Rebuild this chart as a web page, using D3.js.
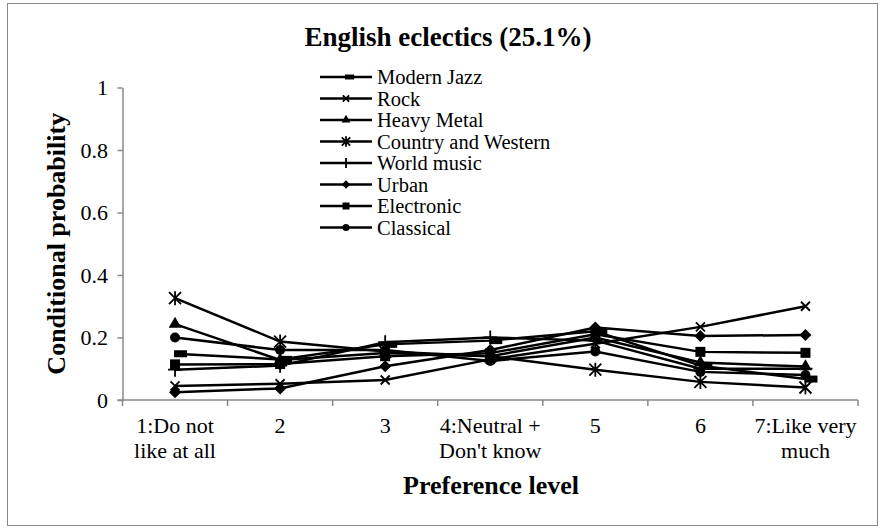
<!DOCTYPE html>
<html>
<head>
<meta charset="utf-8">
<script src="https://cdn.jsdelivr.net/npm/d3@7"></script>
<style>
  body { margin: 0; background: #fff; }
  svg text { font-family: "Liberation Serif", "DejaVu Serif", "Times New Roman", serif; fill: #000; }
</style>
</head>
<body>
<div id="chart"></div>
<script>
const W = 886, H = 532;
const SERIF = "Liberation Serif, DejaVu Serif, Times New Roman, serif";

// preference levels (x categories), two-line labels
const levels = ["1", "2", "3", "4", "5", "6", "7"];
const levelLabels = [["1:Do not", "like at all"], ["2"], ["3"], ["4:Neutral +", "Don't know"], ["5"], ["6"], ["7:Like very", "much"]];
const yTicks = [0, 0.2, 0.4, 0.6, 0.8, 1];

// conditional probabilities per genre
const modernJazz = [0.148, 0.130, 0.178, 0.190, 0.220, 0.110, 0.067];
const rock       = [0.045, 0.052, 0.064, 0.130, 0.180, 0.234, 0.300];
const heavyMetal = [0.243, 0.128, 0.150, 0.140, 0.200, 0.120, 0.107];
const country    = [0.326, 0.187, 0.155, 0.140, 0.097, 0.058, 0.040];
const worldMusic = [0.097, 0.110, 0.185, 0.200, 0.190, 0.100, 0.100];
const urban      = [0.025, 0.037, 0.108, 0.160, 0.232, 0.205, 0.208];
const electronic = [0.114, 0.115, 0.140, 0.150, 0.210, 0.154, 0.151];
const classical  = [0.200, 0.160, 0.160, 0.125, 0.155, 0.090, 0.080];

const series = [
  {name: "Modern Jazz", values: modernJazz, marker: "dash"},
  {name: "Rock", values: rock, marker: "x"},
  {name: "Heavy Metal", values: heavyMetal, marker: "triangle"},
  {name: "Country and Western", values: country, marker: "asterisk"},
  {name: "World music", values: worldMusic, marker: "plus"},
  {name: "Urban", values: urban, marker: "diamond"},
  {name: "Electronic", values: electronic, marker: "square"},
  {name: "Classical", values: classical, marker: "circle"}
];

const plot = {left: 122.5, right: 858, top: 87.5, bottom: 400};

const svg = d3.select("#chart").append("svg")
  .attr("width", W).attr("height", H)
  .attr("font-family", SERIF);

// outer frame
svg.append("rect")
  .attr("x", 7.5).attr("y", 3.5).attr("width", 870).attr("height", 522)
  .attr("fill", "#fff").attr("stroke", "#888").attr("stroke-width", 1);

const x = d3.scaleBand().domain(levels).range([plot.left, plot.right]).padding(0);
const cx = d => x(d) + x.bandwidth() / 2;
const y = d3.scaleLinear().domain([0, 1]).range([plot.bottom, plot.top]);

// y axis
const yAxis = svg.append("g")
  .attr("transform", `translate(${plot.left},0)`)
  .call(d3.axisLeft(y).tickValues(yTicks).tickSize(5).tickSizeOuter(0).tickFormat(d3.format("~g")))
  .attr("font-family", SERIF).attr("font-size", 22);
yAxis.select(".domain").attr("stroke", "#888").attr("stroke-width", 1.5);
yAxis.selectAll(".tick line").attr("stroke", "#888").attr("stroke-width", 1.5);
yAxis.selectAll(".tick text").attr("x", -14.5);

// x axis: line plus ticks at category boundaries
const xAxis = svg.append("g");
xAxis.append("line")
  .attr("x1", plot.left - 5).attr("x2", plot.right)
  .attr("y1", plot.bottom).attr("y2", plot.bottom)
  .attr("stroke", "#888").attr("stroke-width", 1.5);
const bounds = levels.map(d => x(d)).concat([x.range()[1]]);
xAxis.selectAll("line.tk").data(bounds).join("line")
  .attr("class", "tk")
  .attr("x1", d => d).attr("x2", d => d)
  .attr("y1", plot.bottom).attr("y2", plot.bottom + 6)
  .attr("stroke", "#888").attr("stroke-width", 1.5);
xAxis.selectAll("text.lab").data(levels).join("text")
  .attr("class", "lab")
  .attr("text-anchor", "middle")
  .attr("font-size", 22)
  .attr("transform", d => `translate(${cx(d)},${plot.bottom + 33})`)
  .each(function(d, i) {
    d3.select(this).selectAll("tspan").data(levelLabels[i]).join("tspan")
      .attr("x", 0).attr("dy", (t, j) => j === 0 ? 0 : 25)
      .text(t => t);
  });

// title and axis titles
svg.append("text")
  .attr("x", 448).attr("y", 46)
  .attr("text-anchor", "middle").attr("font-weight", "bold").attr("font-size", 27)
  .text("English eclectics (25.1%)");
svg.append("text")
  .attr("x", 491).attr("y", 494)
  .attr("text-anchor", "middle").attr("font-weight", "bold").attr("font-size", 26)
  .text("Preference level");
svg.append("text")
  .attr("transform", `translate(65,${(plot.top + plot.bottom) / 2}) rotate(-90)`)
  .attr("text-anchor", "middle").attr("font-weight", "bold").attr("font-size", 26)
  .text("Conditional probability");

// marker drawing
function drawMarker(g, type, px, py, s) {
  s = s || 1;
  if (type === "dash") {
    g.append("rect").attr("x", px - 1).attr("y", py - 3.5 * s).attr("width", 13 * s).attr("height", 7 * s).attr("fill", "#000");
  } else if (type === "x") {
    const r = 4.5 * s;
    g.append("path").attr("d", `M${px - r},${py - r}L${px + r},${py + r}M${px - r},${py + r}L${px + r},${py - r}`)
      .attr("stroke", "#000").attr("stroke-width", 1.8);
  } else if (type === "triangle") {
    g.append("path").attr("d", d3.symbol(d3.symbolTriangle, 70 * s * s)()).attr("transform", `translate(${px},${py})`).attr("fill", "#000");
  } else if (type === "asterisk") {
    const r = 6 * s;
    g.append("path").attr("d", `M${px - r},${py - r}L${px + r},${py + r}M${px - r},${py + r}L${px + r},${py - r}M${px},${py - r - 1}L${px},${py + r + 1}`)
      .attr("stroke", "#000").attr("stroke-width", 1.8);
  } else if (type === "plus") {
    const r = 7 * s;
    g.append("path").attr("d", `M${px},${py - r}L${px},${py + r}M${px - r},${py}L${px + r},${py}`)
      .attr("stroke", "#000").attr("stroke-width", 1.8);
  } else if (type === "diamond") {
    const r = 6 * s;
    g.append("path").attr("d", `M${px},${py - r}L${px + r},${py}L${px},${py + r}L${px - r},${py}Z`).attr("fill", "#000");
  } else if (type === "square") {
    const r = 5 * s;
    g.append("rect").attr("x", px - r).attr("y", py - r).attr("width", 2 * r).attr("height", 2 * r).attr("fill", "#000");
  } else if (type === "circle") {
    g.append("circle").attr("cx", px).attr("cy", py).attr("r", 5 * s).attr("fill", "#000");
  }
}

const line = d3.line().x((d, i) => cx(levels[i])).y(d => y(d));

const gSeries = svg.append("g");
series.forEach(s => {
  gSeries.append("path")
    .datum(s.values)
    .attr("fill", "none").attr("stroke", "#000").attr("stroke-width", 2.5)
    .attr("d", line);
});
series.forEach(s => {
  const g = gSeries.append("g");
  s.values.forEach((v, i) => drawMarker(g, s.marker, cx(levels[i]), y(v)));
});

// legend
const legend = svg.append("g");
series.forEach((s, i) => {
  const ly = 77 + i * 21.5;
  legend.append("line").attr("x1", 320).attr("x2", 372).attr("y1", ly).attr("y2", ly)
    .attr("stroke", "#000").attr("stroke-width", 2.5);
  drawMarker(legend, s.marker, 346, ly, 0.7);
  legend.append("text").attr("x", 377).attr("y", ly + 7).attr("font-size", 20.5).text(s.name);
});
</script>
</body>
</html>
